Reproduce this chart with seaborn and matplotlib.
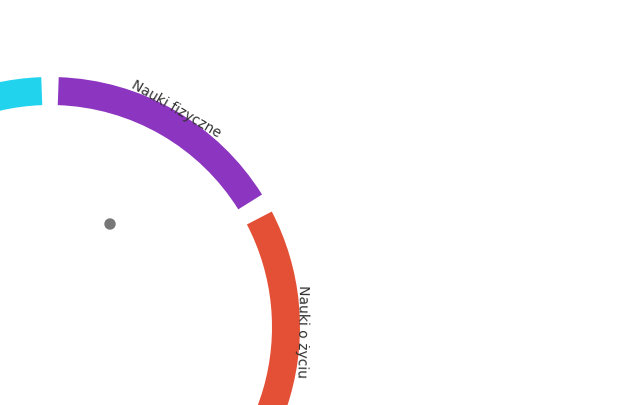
import matplotlib
matplotlib.use("Agg")
import matplotlib.pyplot as plt
from matplotlib.patches import Wedge, Circle
import numpy as np
import seaborn as sns

sns.set_theme(style="white")

# segment data (angular spans in degrees, clockwise from 180°)
categories = ["Nauki o Ziemi", "Nauki fizyczne", "Nauki o życiu"]
spans = [88, 56, 87.5]
gaps = [4, 4.5, 0]
colors = ["#22d3ee", "#8b35c0", "#e45035"]
label_angles = [None, 60, -1]

CX, CY = 50, 78          # centre in pixel coords (y up)
R_OUT, WIDTH = 250, 28

fig = plt.figure(figsize=(6.31, 4.05), dpi=100)
ax = fig.add_axes([0, 0, 1, 1])
ax.set_xlim(0, 631); ax.set_ylim(0, 405)
ax.set_aspect("equal"); ax.axis("off")

t2 = 180
for cat, span, gap, col, la in zip(categories, spans, gaps, colors, label_angles):
    t1 = t2 - span
    ax.add_patch(Wedge((CX, CY), R_OUT, t1, t2, width=WIDTH, color=col, lw=0))
    if la is not None:
        a = np.radians(la)
        ax.text(CX + 252 * np.cos(a), CY + 252 * np.sin(a), cat,
                rotation=la - 90, rotation_mode="anchor", ha="center", va="center",
                fontsize=10, color="#333333")
    t2 = t1 - gap

ax.add_patch(Circle((110, 181), 5, color="#777777"))
fig.savefig("out.png", dpi=100, facecolor="white")
